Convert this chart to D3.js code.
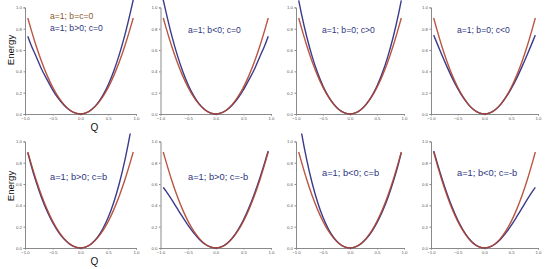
<!DOCTYPE html>
<html>
<head>
<meta charset="utf-8">
<script src="https://d3js.org/d3.v7.min.js"></script>
<style>
body { margin: 0; background: #fff; }
text { font-family: "Liberation Sans", Arial, sans-serif; }
</style>
</head>
<body>
<script>
// Q sample points
var qs = [-0.95,-0.9,-0.8,-0.7,-0.6,-0.5,-0.4,-0.3,-0.2,-0.1,0,0.1,0.2,0.3,0.4,0.5,0.6,0.7,0.8,0.9,0.95];

// reference curve a=1; b=c=0 (same in every panel)
var refE = [0.90,0.81,0.64,0.49,0.36,0.25,0.16,0.09,0.04,0.01,0,0.01,0.04,0.09,0.16,0.25,0.36,0.49,0.64,0.81,0.90];

// second curve, one per panel
var p1 = [0.73,0.66,0.54,0.42,0.32,0.225,0.147,0.085,0.038,0.01,0,0.01,0.042,0.095,0.173,0.275,0.403,0.559,0.742,0.956,1.07];
var p2 = [1.07,0.956,0.742,0.559,0.403,0.275,0.173,0.095,0.042,0.01,0,0.01,0.038,0.085,0.147,0.225,0.32,0.42,0.54,0.66,0.73];
var p3 = [1.065,0.941,0.722,0.538,0.386,0.2625,0.165,0.092,0.04,0.01,0,0.01,0.04,0.092,0.165,0.2625,0.386,0.538,0.722,0.941,1.065];
var p4 = [0.74,0.679,0.558,0.442,0.334,0.2375,0.155,0.088,0.04,0.01,0,0.01,0.04,0.088,0.155,0.2375,0.334,0.442,0.558,0.679,0.74];
var p5 = [0.894,0.795,0.62,0.469,0.343,0.2375,0.152,0.086,0.039,0.01,0,0.01,0.042,0.097,0.178,0.2875,0.429,0.607,0.824,1.087,1.237];
var p6 = [0.568,0.533,0.456,0.373,0.291,0.2125,0.142,0.083,0.038,0.01,0,0.01,0.041,0.094,0.168,0.2625,0.377,0.51,0.66,0.825,0.91];
var p7 = [1.237,1.087,0.824,0.607,0.429,0.2875,0.178,0.097,0.042,0.01,0,0.01,0.039,0.086,0.152,0.2375,0.343,0.469,0.62,0.795,0.894];
var p8 = [0.91,0.825,0.66,0.51,0.377,0.2625,0.168,0.094,0.041,0.01,0,0.01,0.038,0.083,0.142,0.2125,0.291,0.373,0.456,0.533,0.568];
var series = [p1,p2,p3,p4,p5,p6,p7,p8];

var panelLabels = ["a=1; b>0; c=0","a=1; b<0; c=0","a=1; b=0; c>0","a=1; b=0; c<0",
                   "a=1; b>0; c=b","a=1; b>0; c=-b","a=1; b<0; c=b","a=1; b<0; c=-b"];
var refLabel = "a=1; b=c=0";

var xTicks = [-1,-0.5,0,0.5,1];
var yTicks = [0,0.2,0.4,0.6,0.8,1.0];

// layout
var W = 550, H = 269;
var colX0 = [25,160.5,296,431], colX1 = [136,271,404,538];
var rowY0 = [114,248], unitH = 106.6;
var labelPos = [[25,31],[27.5,33],[26,33],[26,33],[25,180],[27.5,180],[26,176],[26,176]];
var refColor = "#b0442c", blueColor = "#3b3b8c";

var svg = d3.select("body").append("svg")
  .attr("width", W).attr("height", H);

var fmt = d3.format(".1f");

series.forEach(function(vals, i) {
  var c = i % 4, r = Math.floor(i / 4);
  var x = d3.scaleLinear().domain([-1,1]).range([colX0[c], colX1[c]]);
  var y = d3.scaleLinear().domain([0,1]).range([rowY0[r], rowY0[r] - unitH]);
  var g = svg.append("g");

  g.append("clipPath").attr("id", "clip" + i)
    .append("rect")
    .attr("x", x(-1)).attr("y", y(1.075))
    .attr("width", x(1) - x(-1)).attr("height", y(0) - y(1.075) + 2);

  // axes
  var xa = g.append("g").attr("transform", "translate(0," + y(0) + ")")
    .call(d3.axisBottom(x).tickValues(xTicks).tickFormat(fmt).tickSize(1.5).tickPadding(1.5));
  var ya = g.append("g").attr("transform", "translate(" + x(-1) + ",0)")
    .call(d3.axisLeft(y).tickValues(yTicks).tickFormat(fmt).tickSize(1.5).tickPadding(1.5));
  [xa, ya].forEach(function(a) {
    a.select(".domain").attr("stroke", "#8a8a8a");
    a.selectAll(".tick line").attr("stroke", "#8a8a8a");
    a.selectAll(".tick text").attr("fill", "#555").style("font-size", "4.3px");
  });

  var line = d3.line()
    .x(function(d, k) { return x(qs[k]); })
    .y(function(d) { return y(d); })
    .curve(d3.curveMonotoneX);

  var curves = g.append("g").attr("clip-path", "url(#clip" + i + ")");
  curves.append("path").datum(vals)
    .attr("d", line).attr("fill", "none")
    .attr("stroke", blueColor).attr("stroke-width", 1.4);
  curves.append("path").datum(refE)
    .attr("d", line).attr("fill", "none")
    .attr("stroke", refColor).attr("stroke-width", 1.4).attr("stroke-opacity", 0.9);

  g.append("text")
    .attr("x", colX0[c] + labelPos[i][0]).attr("y", labelPos[i][1])
    .attr("fill", "#2d3580")
    .style("font-size", r === 0 ? "8.6px" : "9.3px")
    .text(panelLabels[i]);

  if (i === 0) {
    g.append("text")
      .attr("x", colX0[c] + labelPos[i][0]).attr("y", 19)
      .attr("fill", "#8a5a2a")
      .style("font-size", "8.6px")
      .text(refLabel);
  }

  if (c === 0) {
    g.append("text")
      .attr("transform", "translate(14," + (r === 0 ? 50 : 186) + ") rotate(-90)")
      .attr("text-anchor", "middle")
      .attr("fill", "#111")
      .style("font-size", "9.6px")
      .text("Energy");
    g.append("text")
      .attr("x", 94.5).attr("y", r === 0 ? 131 : 265)
      .attr("text-anchor", "middle")
      .attr("fill", "#111")
      .style("font-size", "10px")
      .text("Q");
  }
});
</script>
</body>
</html>
